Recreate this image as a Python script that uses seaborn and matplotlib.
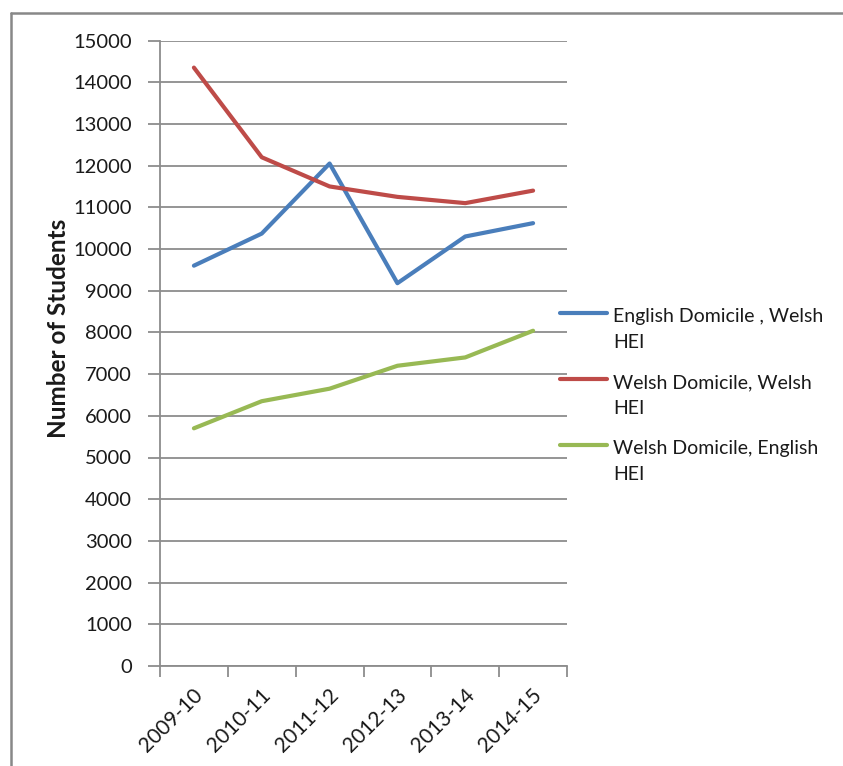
import matplotlib
matplotlib.use("Agg")
import matplotlib.pyplot as plt
from matplotlib.lines import Line2D
import numpy as np
import pandas as pd
import seaborn as sns

# Academic years on the x axis
years = ["2009-10", "2010-11", "2011-12", "2012-13", "2013-14", "2014-15"]

# Student numbers per flow
english_dom_welsh_hei = [9600, 10370, 12050, 9180, 10300, 10620]
welsh_dom_welsh_hei = [14350, 12200, 11500, 11250, 11100, 11400]
welsh_dom_english_hei = [5700, 6350, 6650, 7200, 7400, 8040]

series_names = [
    "English Domicile , Welsh\nHEI",
    "Welsh Domicile, Welsh\nHEI",
    "Welsh Domicile, English\nHEI",
]
series_values = [english_dom_welsh_hei, welsh_dom_welsh_hei, welsh_dom_english_hei]
colors = ["#4A7EBB", "#BE4B48", "#98B954"]

df = pd.concat(
    [pd.DataFrame({"Year": years, "Students": vals, "Series": name})
     for name, vals in zip(series_names, series_values)],
    ignore_index=True,
)

sns.set_theme(style="white")
plt.rcParams["font.family"] = ["Lato", "DejaVu Sans"]

W, H, DPI = 843, 766, 100
fig = plt.figure(figsize=(W / DPI, H / DPI), dpi=DPI)

def fx(px):
    return px / W

def fy(py):
    return 1 - py / H

ax = fig.add_axes([fx(160), fy(666), fx(567) - fx(160), fy(40.5) - fy(666)])

sns.lineplot(
    data=df, x="Year", y="Students", hue="Series",
    palette=dict(zip(series_names, colors)),
    linewidth=3.0, ax=ax, legend=False, sort=False,
)

grid_color = "#8C8C8C"
ax.set_xlim(-0.5, len(years) - 0.5)
ax.set_ylim(0, 15000)
ax.set_yticks(np.arange(0, 15001, 1000))
ax.yaxis.grid(True, color=grid_color, linewidth=1.3)
ax.xaxis.grid(False)
ax.set_axisbelow(True)

for side in ["top", "right"]:
    ax.spines[side].set_visible(False)
for side in ["left", "bottom"]:
    ax.spines[side].set_color(grid_color)
    ax.spines[side].set_linewidth(1.3)

ax.tick_params(axis="y", which="major", direction="out", length=9,
               width=1.3, color=grid_color, left=True, pad=11,
               labelsize=14.5, labelcolor="#1a1a1a")

# Category labels sit between boundary tick marks
ax.set_xticks(range(len(years)))
ax.set_xticklabels([])
ax.set_xticks(np.arange(-0.5, len(years), 1.0), minor=True)
ax.tick_params(axis="x", which="minor", direction="out", length=8,
               width=1.3, color=grid_color, bottom=True)
ax.tick_params(axis="x", which="major", length=0)
for i, yr in enumerate(years):
    ax.annotate(yr, xy=(i, 0), xycoords=("data", "axes fraction"),
                xytext=(6, -26), textcoords="offset pixels",
                rotation=45, rotation_mode="anchor", ha="right", va="center",
                fontsize=15, color="#1a1a1a", annotation_clip=False)

ax.set_xlabel("")
ax.set_ylabel("")
fig.text(fx(58), fy(328), "Number of Students", rotation=90,
         ha="center", va="center", fontsize=17.5, fontweight="bold",
         color="#1a1a1a")

# Legend to the right of the plot, handle level with the first text line
for i, (name, line) in enumerate(zip(series_names, ax.get_lines())):
    first = 321 + 66 * i
    fig.add_artist(Line2D([fx(560), fx(607)], [fy(first - 8), fy(first - 8)],
                          color=line.get_color(), linewidth=3.0,
                          solid_capstyle="round"))
    # baseline alignment of multi-line text refers to the last line
    fig.text(fx(613), fy(first + 27), name, ha="left", va="baseline",
             fontsize=14, color="#1a1a1a", linespacing=1.65)

# Outer chart frame
frame_color = "#888888"
fig.add_artist(Line2D([fx(11), fx(W)], [fy(13), fy(13)],
                      color=frame_color, linewidth=1.8))
fig.add_artist(Line2D([fx(11), fx(11)], [fy(13), fy(H)],
                      color=frame_color, linewidth=1.8))

fig.savefig("out.png", dpi=DPI, facecolor="white")
